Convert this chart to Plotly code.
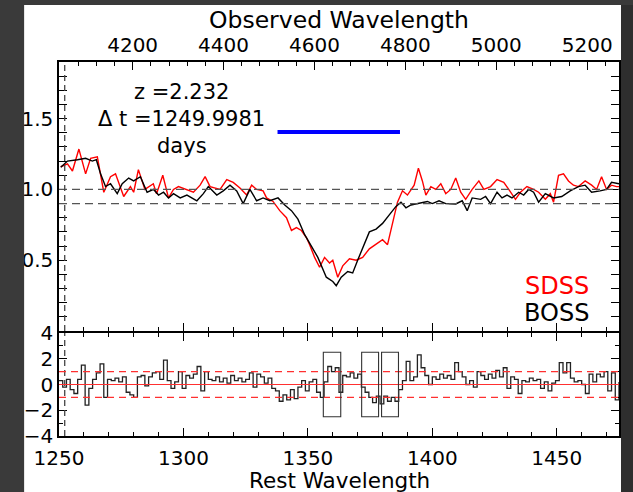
import plotly.graph_objects as go

# ---------------- data ----------------
sdss_wave = [1250.7, 1253.4, 1255.4, 1258.0, 1260.7, 1262.7, 1265.4, 1268.0, 1270.7, 1272.7,
             1276.0, 1278.7, 1280.0, 1281.9, 1284.5, 1287.9, 1289.2, 1291.7, 1294.0, 1296.0,
             1298.0, 1301.4, 1304.0, 1306.7, 1308.7, 1310.7, 1314.7, 1317.4, 1320.0, 1322.7,
             1325.4, 1327.4, 1329.4, 1332.0, 1333.4, 1336.0, 1338.7, 1341.4, 1343.4, 1345.4,
             1347.4, 1349.4, 1350.7, 1352.7, 1354.7, 1356.7, 1358.7, 1360.0, 1362.0, 1364.0,
             1366.7, 1369.4, 1372.0, 1374.7, 1377.4, 1380.0, 1382.0, 1384.0, 1386.0, 1388.0,
             1390.0, 1392.7, 1394.4, 1396.0, 1397.4, 1399.4, 1401.4, 1403.4, 1405.4, 1407.4,
             1409.4, 1411.4, 1413.4, 1416.0, 1418.7, 1420.7, 1423.4, 1426.0, 1428.7, 1430.7,
             1433.4, 1435.4, 1438.0, 1440.7, 1442.7, 1445.4, 1447.4, 1448.7, 1450.7, 1452.7,
             1454.7, 1456.7, 1458.7, 1461.4, 1464.0, 1466.0, 1468.0, 1470.0, 1472.0, 1474.0, 1475.0]
sdss_flux = [1.16, 1.18, 1.13, 1.285, 1.11, 1.22, 1.23, 0.98, 1.09, 1.11,
             0.95, 1.02, 0.98, 1.14, 1.00, 1.04, 0.97, 1.10, 0.94, 1.00,
             1.02, 1.00, 0.98, 1.03, 1.09, 1.02, 1.00, 1.07, 1.05, 1.01,
             0.96, 1.03, 1.00, 0.99, 0.94, 0.915, 0.85, 0.80, 0.71, 0.73,
             0.71, 0.66, 0.61, 0.52, 0.45, 0.52, 0.48, 0.50, 0.38, 0.46,
             0.51, 0.50, 0.52, 0.58, 0.61, 0.645, 0.61, 0.75, 0.91, 0.99,
             0.96, 1.03, 1.15, 1.06, 0.96, 1.02, 1.00, 1.04, 0.97, 1.00,
             1.08, 0.98, 0.93, 1.00, 1.06, 1.00, 1.02, 1.07, 1.05, 1.00,
             0.93, 0.98, 1.02, 1.00, 0.98, 0.93, 0.97, 0.91, 1.10, 1.11,
             1.06, 1.03, 1.02, 1.06, 1.03, 1.00, 1.09, 1.00, 1.03, 1.02, 1.02]

boss_wave = [1250.7, 1253.4, 1257.4, 1260.7, 1262.0, 1263.4, 1265.0, 1266.7, 1268.7, 1270.7,
             1273.4, 1275.4, 1278.0, 1280.0, 1282.7, 1285.4, 1288.0, 1290.0, 1292.0, 1294.0,
             1296.0, 1298.7, 1301.4, 1305.4, 1308.0, 1310.0, 1313.4, 1316.0, 1318.7, 1321.4,
             1324.0, 1326.7, 1329.4, 1332.0, 1334.7, 1338.0, 1340.7, 1343.4, 1346.0, 1348.7,
             1351.4, 1354.0, 1357.4, 1360.0, 1361.4, 1363.4, 1366.0, 1368.0, 1370.0, 1372.0,
             1374.7, 1377.4, 1380.0, 1382.7, 1385.4, 1387.4, 1389.4, 1391.4, 1394.7, 1398.0,
             1400.0, 1402.7, 1405.4, 1409.4, 1412.0, 1414.0, 1416.0, 1419.4, 1421.4, 1423.4,
             1426.0, 1428.0, 1430.0, 1432.0, 1434.7, 1436.7, 1438.7, 1440.7, 1442.7, 1445.4,
             1448.7, 1452.0, 1455.4, 1458.7, 1461.4, 1464.0, 1467.4, 1470.0, 1472.0, 1474.0, 1475.0]
boss_flux = [1.156, 1.20, 1.21, 1.22, 1.21, 1.20, 1.21, 1.11, 1.02, 1.04,
             0.97, 1.04, 1.08, 1.06, 1.09, 0.98, 1.00, 0.96, 0.98, 0.94,
             0.97, 0.94, 0.96, 0.92, 0.97, 1.02, 0.96, 0.99, 1.03, 0.99,
             0.90, 1.00, 0.92, 0.94, 0.92, 0.94, 0.89, 0.85, 0.79, 0.68,
             0.60, 0.52, 0.38, 0.35, 0.32, 0.38, 0.42, 0.41, 0.50, 0.58,
             0.70, 0.72, 0.76, 0.82, 0.88, 0.91, 0.87, 0.89, 0.90, 0.915,
             0.90, 0.92, 0.90, 0.897, 0.92, 0.85, 0.94, 0.93, 0.95, 0.90,
             0.98, 0.94, 0.96, 0.94, 0.98, 0.96, 1.00, 0.98, 0.91, 0.97,
             0.94, 0.95, 0.99, 1.02, 1.03, 0.98, 0.99, 1.00, 1.05, 1.04, 1.04]

res_wave = [1250.0, 1251.5, 1253.0, 1254.5, 1256.0, 1257.5, 1259.0, 1260.5, 1262.0, 1263.5,
            1265.0, 1266.5, 1268.0, 1269.5, 1271.0, 1272.5, 1274.0, 1275.5, 1277.0, 1278.5,
            1280.0, 1281.5, 1283.0, 1284.5, 1286.0, 1287.5, 1289.0, 1290.5, 1292.0, 1293.5,
            1295.0, 1296.5, 1298.0, 1299.5, 1301.0, 1302.5, 1304.0, 1305.5, 1307.0, 1308.5,
            1310.0, 1311.5, 1313.0, 1314.5, 1316.0, 1317.5, 1319.0, 1320.5, 1322.0, 1323.5,
            1325.0, 1326.5, 1328.0, 1329.5, 1331.0, 1332.5, 1334.0, 1335.5, 1337.0, 1338.5,
            1340.0, 1341.5, 1343.0, 1344.5, 1346.0, 1347.5, 1349.0, 1350.5, 1352.0, 1353.5,
            1355.0, 1356.5, 1358.0, 1359.5, 1361.0, 1362.5, 1364.0, 1365.5, 1367.0, 1368.5,
            1370.0, 1371.5, 1373.0, 1374.5, 1376.0, 1377.5, 1379.0, 1380.5, 1382.0, 1383.5,
            1385.0, 1386.5, 1388.0, 1389.5, 1391.0, 1392.5, 1394.0, 1395.5, 1397.0, 1398.5,
            1400.0, 1401.5, 1403.0, 1404.5, 1406.0, 1407.5, 1409.0, 1410.5, 1412.0, 1413.5,
            1415.0, 1416.5, 1418.0, 1419.5, 1421.0, 1422.5, 1424.0, 1425.5, 1427.0, 1428.5,
            1430.0, 1431.5, 1433.0, 1434.5, 1436.0, 1437.5, 1439.0, 1440.5, 1442.0, 1443.5,
            1445.0, 1446.5, 1448.0, 1449.5, 1451.0, 1452.5, 1454.0, 1455.5, 1457.0, 1458.5,
            1460.0, 1461.5, 1463.0, 1464.5, 1466.0, 1467.5, 1469.0, 1470.5, 1472.0, 1473.5, 1475.0]
res_val = [0.3, -0.2, 0.4, -0.4, -0.7, 0.4, 1.5, -1.6, -0.3, 0.4,
           0.9, 1.6, -1.0, 0.4, 0.3, 0.5, 0.2, 0.6, -0.6, -0.8,
           -1.0, 0.6, 0.7, -0.1, 0.6, 0.9, 1.0, 0.4, 1.9, 0.3,
           -0.3, 0.2, 1.0, -0.3, 0.7, 0.5, 0.8, 1.4, -0.5, 1.0,
           0.4, 0.3, 0.6, 0.2, 0.5, 0.1, 0.7, 0.3, 0.5, 0.2,
           0.4, 0.9, -0.2, 0.8, 0.6, 0.1, 0.5, -0.3, -0.5, -1.3,
           -0.8, -1.2, -0.4, -1.1, -0.2, 0.3, -0.5, 0.2, 0.4, -0.6,
           -1.0, 0.2, 1.4, 1.0, 1.3, -0.6, 0.7, 0.6, 0.9, 0.5,
           0.8, -0.2, -0.6, -1.0, -1.4, -0.9, -1.5, -0.9, -1.3, -1.0,
           -1.3, -0.4, 0.3, 1.8, 0.3, 0.6, 2.3, 1.3, 0.7, 0.0,
           0.6, 0.4, 0.8, 0.5, 0.7, 0.4, 1.7, 1.0, 0.6, 0.0,
           0.3, -0.2, 1.0, 0.7, 0.4, 0.8, 0.5, 1.1, 0.6, 1.3,
           -0.3, 0.6, 0.4, -0.7, 0.3, 0.2, 0.5, 0.3, 0.4, -0.3,
           0.2, -0.5, 0.1, 0.3, 1.7, 0.9, 1.7, 0.5, 0.2, 0.3,
           0.0, -0.7, 0.8, 0.2, 0.8, 0.6, 1.0, -0.5, 0.9, -1.2, 0.2]

continuum_levels = [1.0, 0.9]
res_levels = [-1.0, 1.0]
vline_wave = 1252.3
blue_wave = [1337.8, 1387.0]
blue_flux = [1.406, 1.406]
box_x0 = [1356.2, 1371.6, 1379.6]
box_x1 = [1363.2, 1378.4, 1386.4]
box_y0 = [-2.5, -2.5, -2.5]
box_y1 = [2.5, 2.5, 2.5]
obs_ticks = [4200, 4400, 4600, 4800, 5000, 5200]
rest_ticks = [1250, 1300, 1350, 1400, 1450]
info_lines = ["z =2.232", "\u0394 t =1249.9981", "days"]
info_y = [1.687, 1.496, 1.306]

FONT = "DejaVu Sans, Verdana, sans-serif"
W, H = 633, 492
ML, MR, MT, MB = 59, 12, 62, 56
PW, PH = W - ML - MR, H - MT - MB


def px(xpix):
    return (xpix - ML) / PW


def py(ypix):
    return 1 - (ypix - MT) / PH


fig = go.Figure()

fig.add_trace(go.Scatter(x=sdss_wave, y=sdss_flux, mode="lines", line=dict(color="#ff0000", width=1.4),
                         xaxis="x", yaxis="y", showlegend=False))
fig.add_trace(go.Scatter(x=boss_wave, y=boss_flux, mode="lines", line=dict(color="#000000", width=1.4),
                         xaxis="x", yaxis="y", showlegend=False))
fig.add_trace(go.Scatter(x=blue_wave, y=blue_flux, mode="lines", line=dict(color="#0000ff", width=4),
                         xaxis="x", yaxis="y", showlegend=False))
fig.add_trace(go.Scatter(x=[obs_ticks[0]], y=[None], xaxis="x3", yaxis="y", showlegend=False,
                         hoverinfo="skip"))
fig.add_trace(go.Scatter(x=res_wave, y=res_val, mode="lines", line=dict(color="#222222", width=1.3, shape="hv"),
                         xaxis="x2", yaxis="y2", showlegend=False))

shapes = []
for lv in continuum_levels:
    shapes.append(dict(type="line", xref="x", yref="y", x0=1250, x1=1475, y0=lv, y1=lv,
                       line=dict(color="#555555", width=1.3, dash="8px,5px")))
shapes.append(dict(type="line", xref="x", yref="y", x0=vline_wave, x1=vline_wave, y0=0, y1=1.9,
                   line=dict(color="#444444", width=1.3, dash="6px,4px")))
shapes.append(dict(type="line", xref="x2", yref="y2", x0=vline_wave, x1=vline_wave, y0=-4, y1=4,
                   line=dict(color="#444444", width=1.3, dash="6px,4px")))
shapes.append(dict(type="line", xref="x2", yref="y2", x0=1250, x1=1475, y0=0, y1=0,
                   line=dict(color="#ff3030", width=1.2)))
for lv in res_levels:
    shapes.append(dict(type="line", xref="x2", yref="y2", x0=1250, x1=1475, y0=lv, y1=lv,
                       line=dict(color="#ff3030", width=1.2, dash="7px,5px")))
for a, b, c, d in zip(box_x0, box_x1, box_y0, box_y1):
    shapes.append(dict(type="rect", xref="x2", yref="y2", x0=a, x1=b, y0=c, y1=d,
                       line=dict(color="#333333", width=1.1)))
DARK = "#3a3a3a"
shapes.append(dict(type="rect", xref="paper", yref="paper", x0=px(-5), x1=px(24), y0=py(-5), y1=py(W),
                   fillcolor=DARK, line=dict(width=0), layer="above"))
shapes.append(dict(type="rect", xref="paper", yref="paper", x0=px(623), x1=px(W + 5), y0=py(-5), y1=py(W),
                   fillcolor="#2e2e2e", line=dict(width=0), layer="above"))
shapes.append(dict(type="rect", xref="paper", yref="paper", x0=px(-5), x1=px(W + 5), y0=py(-5), y1=py(5),
                   fillcolor=DARK, line=dict(width=0), layer="above"))

annotations = []
for t, yv in zip(info_lines, info_y):
    annotations.append(dict(x=1299.4, y=yv, xref="x", yref="y", text=t, showarrow=False,
                            font=dict(size=21, color="black", family=FONT), xanchor="center", yanchor="middle"))
annotations.append(dict(x=1463.9, y=0.32, xref="x", yref="y", text="SDSS", showarrow=False,
                        font=dict(size=24, color="#ff0000", family=FONT), xanchor="right", yanchor="middle"))
annotations.append(dict(x=1463.9, y=0.13, xref="x", yref="y", text="BOSS", showarrow=False,
                        font=dict(size=24, color="black", family=FONT), xanchor="right", yanchor="middle"))
annotations.append(dict(x=0.5, y=py(20), xref="paper", yref="paper", text="Observed Wavelength",
                        showarrow=False, font=dict(size=23.5, color="black", family=FONT),
                        xanchor="center", yanchor="middle"))
annotations.append(dict(x=0.5, y=py(480), xref="paper", yref="paper", text="Rest Wavelength",
                        showarrow=False, font=dict(size=21.5, color="black", family=FONT),
                        xanchor="center", yanchor="middle"))

axis_common = dict(showline=True, linecolor="black", linewidth=1.5, ticks="inside", tickcolor="black",
                   tickwidth=1.2, ticklen=8, showgrid=False, zeroline=False,
                   tickfont=dict(size=20, family=FONT, color="black"))

fig.update_layout(
    width=W, height=H,
    margin=dict(l=ML, r=MR, t=MT, b=MB),
    paper_bgcolor="white", plot_bgcolor="white",
    font=dict(family=FONT, color="black"),
    shapes=shapes, annotations=annotations,
    xaxis=dict(domain=[0, 1], anchor="y", range=[1250, 1475], tickmode="array", tickvals=rest_ticks,
               showticklabels=False, mirror=False,
               minor=dict(dtick=10, tick0=1250, ticklen=4, ticks="inside", tickcolor="black"),
               **axis_common),
    xaxis3=dict(overlaying="x", side="top", anchor="y", range=[4038, 5270], tickmode="array",
                tickvals=obs_ticks, ticktext=[str(v) for v in obs_ticks],
                minor=dict(dtick=40, tick0=4040, ticklen=4, ticks="inside", tickcolor="black"),
                **axis_common),
    yaxis=dict(domain=[py(331), 1], anchor="x", range=[0, 1.9], tickmode="array",
               tickvals=[0.5, 1.0, 1.5], ticktext=["0.5", "1.0", "1.5"], mirror="allticks",
               minor=dict(dtick=0.1, tick0=0, ticklen=4, ticks="inside", tickcolor="black"),
               **axis_common),
    xaxis2=dict(domain=[0, 1], anchor="y2", range=[1250, 1475], tickmode="array", tickvals=rest_ticks,
                mirror="allticks", ticklabelstandoff=3,
                minor=dict(dtick=10, tick0=1250, ticklen=4, ticks="inside", tickcolor="black"),
                **axis_common),
    yaxis2=dict(domain=[0, py(333)], anchor="x2", range=[-4, 4], tickmode="array",
                tickvals=[-4, -2, 0, 2, 4], mirror="allticks",
                minor=dict(dtick=1, tick0=0, ticklen=4, ticks="inside", tickcolor="black"),
                **axis_common),
)

fig.write_html("out.html")
